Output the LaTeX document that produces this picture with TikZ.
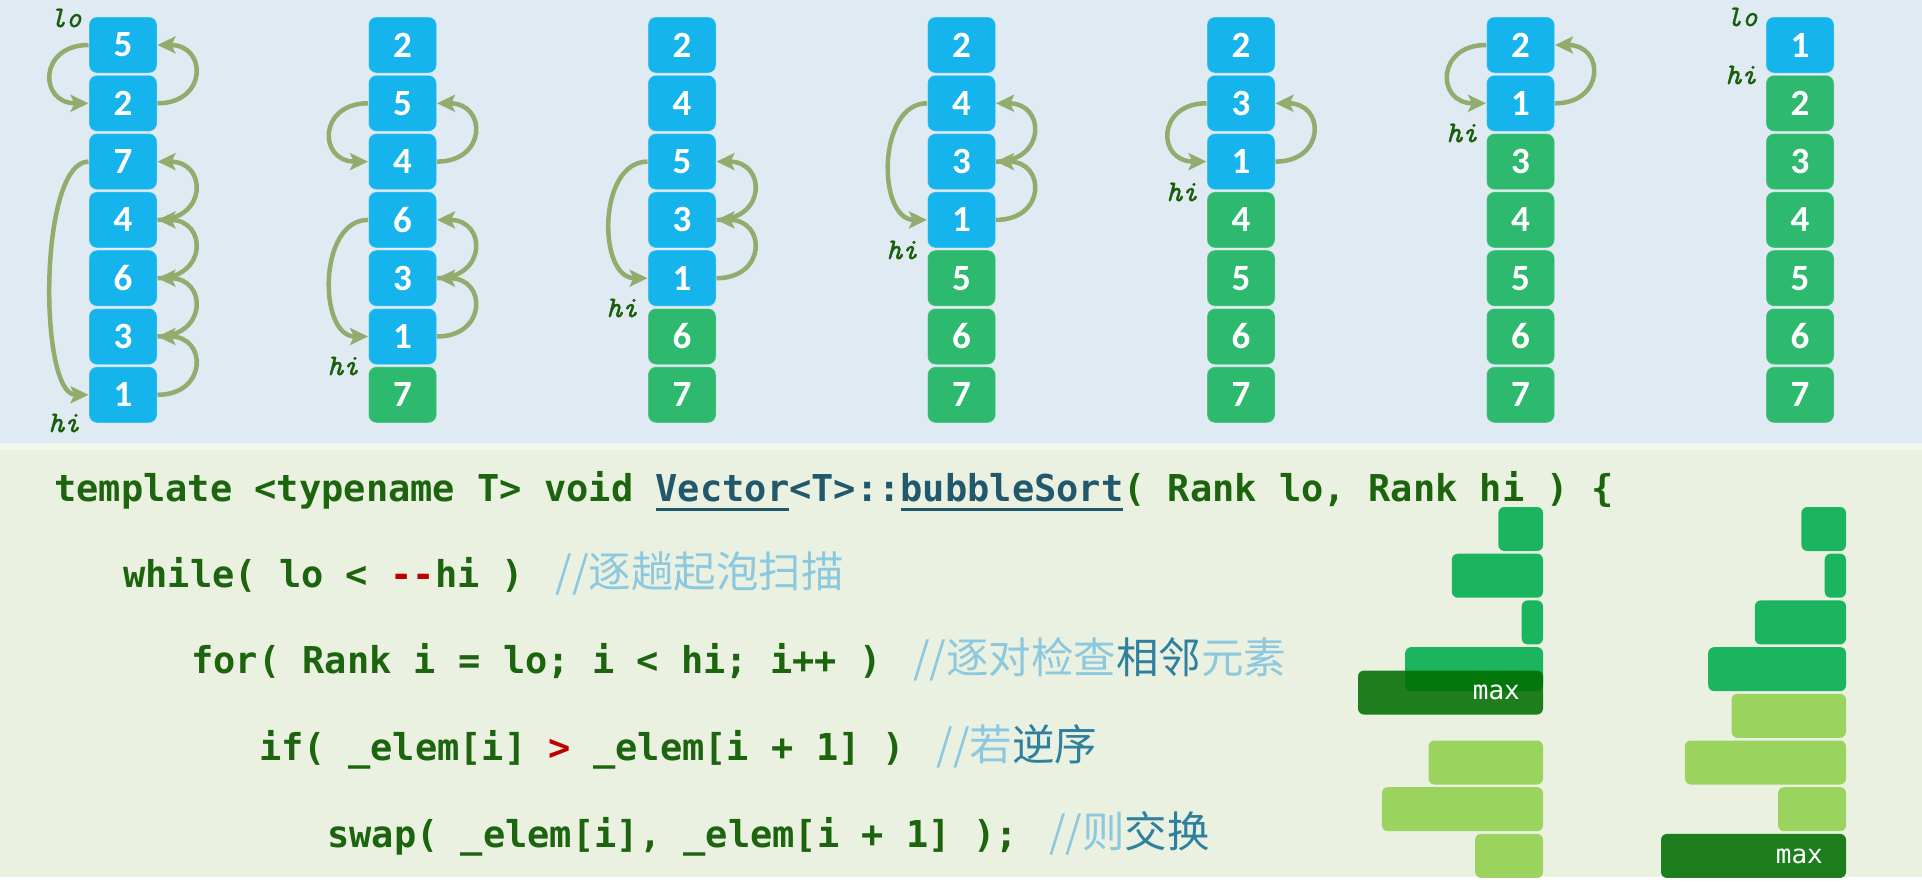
\documentclass[tikz,border=0pt]{standalone}
\usepackage{fontspec}
\setmainfont{Carlito}
\newfontfamily\codefont{DejaVu Sans Mono}
\newfontfamily\cjkfont{Noto Sans CJK SC}
\newfontfamily\digitfont{Carlito}
\newfontfamily\ptrfont{Latin Modern Mono}[FakeBold=1.2]
\usetikzlibrary{arrows.meta}

\definecolor{topbg}{RGB}{224,234,242}
\definecolor{botbg}{RGB}{235,241,225}
\definecolor{seam}{RGB}{243,248,238}
\definecolor{cellblue}{RGB}{22,180,236}
\definecolor{cellgreen}{RGB}{45,185,110}
\definecolor{arrowcol}{RGB}{145,172,108}
\definecolor{labelgreen}{RGB}{26,94,10}
\definecolor{codegreen}{RGB}{28,100,14}
\definecolor{codeteal}{RGB}{34,88,108}
\definecolor{codered}{RGB}{192,0,0}
\definecolor{cmtlight}{RGB}{140,200,222}
\definecolor{cmtdark}{RGB}{46,128,158}
\definecolor{barmid}{RGB}{27,180,95}
\definecolor{barlight}{RGB}{154,211,94}
\definecolor{barmax}{RGB}{0,110,0}

\newcommand\myul[1]{\setbox0\hbox{#1}\rlap{\rule[-10pt]{\wd0}{3pt}}\box0}
\newcommand\cmt{\hspace{9pt}\cjkfont\mdseries\fontsize{42.5}{42.5}\selectfont\color{cmtlight}}
\newcommand\cmtd[1]{{\color{cmtdark}#1}}
\newcommand\leftarc[3]{\draw[swaparrow] (c#1r#2.west) .. controls +(-50,0) and +(-50,0) .. (c#1r#3.west);}
\newcommand\rightarc[3]{\draw[swaparrow] (c#1r#2.east) .. controls +(50,0) and +(50,0) .. (c#1r#3.east);}

\begin{document}
\begin{tikzpicture}[x=1pt,y=-1pt,
  cell/.style={rounded corners=8pt, minimum width=68pt, minimum height=56pt, inner sep=0pt,
    font=\digitfont\bfseries\fontsize{37}{37}\selectfont, text=white, draw=white, draw opacity=0.25, line width=1pt},
  swaparrow/.style={draw=arrowcol, line width=4.5pt, -{Stealth[length=18pt,width=17pt,inset=4pt]}},
  ptr/.style={text=labelgreen, font=\ptrfont\itshape\fontsize{30}{30}\selectfont, inner sep=0pt},
  codeline/.style={anchor=base west, inner sep=0pt, text=codegreen, font=\codefont\bfseries\fontsize{37}{37}\selectfont},
  bar/.style={rounded corners=6pt},
  maxlabel/.style={anchor=east, inner sep=0pt, text=white, font=\codefont\fontsize{26}{26}\selectfont}
]
\useasboundingbox (0,0) rectangle (1922,886);
% backgrounds
\fill[white] (0,0) rectangle (1922,886);
\fill[topbg] (0,0) rectangle (1922,443);
\fill[seam] (0,443) rectangle (1922,450);
\fill[botbg] (0,450) rectangle (1922,877);

% cells
\foreach \vals [count=\ci] in {{5,2,7,4,6,3,1},{2,5,4,6,3,1,7},{2,4,5,3,1,6,7},{2,4,3,1,5,6,7},{2,3,1,4,5,6,7},{2,1,3,4,5,6,7},{1,2,3,4,5,6,7}}{
  \foreach \v [count=\ri] in \vals {
    \pgfmathsetmacro\cx{123+279.5*(\ci-1)}
    \pgfmathsetmacro\cy{45+58.3*(\ri-1)}
    \pgfmathtruncatemacro\isblue{(\ri+\ci<=8)}
    \ifnum\isblue=1 \def\fillcol{cellblue}\else\def\fillcol{cellgreen}\fi
    \node[cell, fill=\fillcol] (c\ci r\ri) at (\cx,\cy) {\v};
  }
}

% swap arrows
\leftarc{1}{1}{2} \rightarc{1}{2}{1}
\leftarc{1}{3}{7} \rightarc{1}{4}{3} \rightarc{1}{5}{4} \rightarc{1}{6}{5} \rightarc{1}{7}{6}
\leftarc{2}{2}{3} \rightarc{2}{3}{2}
\leftarc{2}{4}{6} \rightarc{2}{5}{4} \rightarc{2}{6}{5}
\leftarc{3}{3}{5} \rightarc{3}{4}{3} \rightarc{3}{5}{4}
\leftarc{4}{2}{4} \rightarc{4}{3}{2} \rightarc{4}{4}{3}
\leftarc{5}{2}{3} \rightarc{5}{3}{2}
\leftarc{6}{1}{2} \rightarc{6}{2}{1}

% lo / hi pointers
\node[ptr] (lo1) at (66,18) {lo};
\node[ptr] (hi1) at (64,423) {hi};
\node[ptr] (hi2) at (343,366) {hi};
\node[ptr] (hi3) at (622,308) {hi};
\node[ptr] (hi4) at (902,250) {hi};
\node[ptr] (hi5) at (1182,192) {hi};
\node[ptr] (hi6) at (1462,133) {hi};
\node[ptr] (lo7) at (1742,17) {lo};
\node[ptr] (hi7) at (1741,75) {hi};

% code
\node[codeline] (code1) at (54,501) {template <typename T> void {\color{codeteal}\myul{Vector}<T>::\myul{bubbleSort}}( Rank lo, Rank hi ) \{};
\node[codeline] (code2) at (123,587) {while( lo < {\color{codered}-\kern0pt-}hi ) {\cmt //逐趟起泡扫描}};
\node[codeline] (code3) at (191,673) {for( Rank i = lo; i < hi; i++ ) {\cmt //逐对检查\cmtd{相邻}元素}};
\node[codeline] (code4) at (259,760) {if( \_elem[i] {\color{codered}>} \_elem[i + 1] ) {\cmt //若\cmtd{逆序}}};
\node[codeline] (code5) at (327,847) {swap( \_elem[i], \_elem[i + 1] ); {\cmt //则\cmtd{交换}}};

% bar charts: left (during a pass)
\foreach \v/\r in {2/1,4/2,1/3,6/4}
  \fill[bar, barmid] ({1543-(23.3*\v-2)},{507+46.7*(\r-1)}) rectangle (1543,{551+46.7*(\r-1)});
\foreach \v/\r in {5/6,7/7,3/8}
  \fill[bar, barlight] ({1543-(23.3*\v-2)},{507+46.7*(\r-1)}) rectangle (1543,{551+46.7*(\r-1)});
\fill[bar, barmax, fill opacity=0.87] (1358,670.5) rectangle (1543,714.5);
\node[maxlabel] (maxL) at (1520,692.5) {max};

% bar charts: right (after a pass)
\foreach \v/\r in {2/1,1/2,4/3,6/4}
  \fill[bar, barmid] ({1846-(23.3*\v-2)},{507+46.7*(\r-1)}) rectangle (1846,{551+46.7*(\r-1)});
\foreach \v/\r in {5/5,7/6,3/7}
  \fill[bar, barlight] ({1846-(23.3*\v-2)},{507+46.7*(\r-1)}) rectangle (1846,{551+46.7*(\r-1)});
\fill[bar, barmax, fill opacity=0.87] (1661,833.9) rectangle (1846,877.9);
\node[maxlabel] (maxR) at (1823,855.9) {max};
\end{tikzpicture}
\end{document}
